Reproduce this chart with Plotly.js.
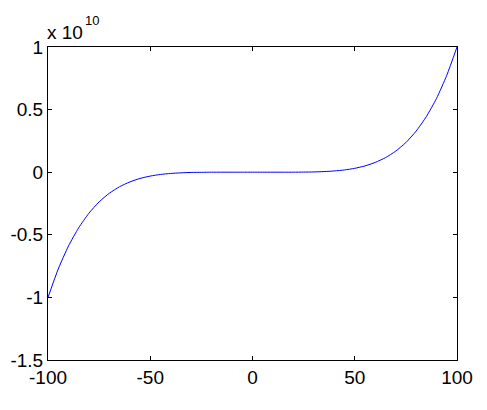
<!DOCTYPE html>
<html>
<head>
<meta charset="utf-8">
<script src="https://cdn.plot.ly/plotly-3.0.1.min.js"></script>
<style>html,body{margin:0;padding:0;background:#fff;}#chart{width:487px;height:410px;}</style>
</head>
<body>
<div id="chart"></div>
<script>
// x values and y values (y in units of 1e10, as shown on the axis)
var xValues = [-100,-95,-90,-85,-80,-75,-70,-65,-60,-55,-50,-45,-40,-35,-30,-25,-20,-15,-10,-5,0,
               5,10,15,20,25,30,35,40,45,50,55,60,65,70,75,80,85,90,95,100];
var yValues = [-1.000,-0.774,-0.590,-0.444,-0.328,-0.237,-0.168,-0.116,-0.078,-0.050,-0.031,-0.018,-0.010,-0.005,-0.002,-0.001,0,0,0,0,0,
               0,0,0,0,0.001,0.002,0.005,0.010,0.018,0.031,0.050,0.078,0.116,0.168,0.237,0.328,0.444,0.590,0.774,1.000];
var xTickVals = [-100,-50,0,50,100];
var xTickText = ['-100','-50','0','50','100'];
var yTickVals = [-1.5,-1,-0.5,0,0.5,1];
var yTickText = ['-1.5','-1','-0.5','0','0.5','1'];
var exponentBase = 'x 10';
var exponentPower = '10';

var fontFam = 'Arial, "Liberation Sans", Helvetica, sans-serif';
var trace = {
  x: xValues, y: yValues, type: 'scatter', mode: 'lines',
  line: {color: 'rgb(0,0,255)', width: 1, shape: 'spline', smoothing: 0.6},
  hoverinfo: 'none'
};
var axisCommon = {
  showgrid: false, zeroline: false, showline: true, linecolor: '#000', linewidth: 1,
  mirror: 'ticks', ticks: 'inside', ticklen: 4, tickwidth: 1, tickcolor: '#000',
  tickfont: {family: fontFam, size: 19, color: '#000'}
};
var layout = {
  width: 487, height: 410,
  margin: {l: 48, r: 30, t: 47, b: 50, pad: 0},
  paper_bgcolor: '#fff', plot_bgcolor: '#fff',
  showlegend: false,
  xaxis: Object.assign({}, axisCommon, {range: [-100, 100], tickvals: xTickVals, ticktext: xTickText}),
  yaxis: Object.assign({}, axisCommon, {range: [-1.5, 1], tickvals: yTickVals, ticktext: yTickText}),
  annotations: [{
    text: exponentBase, xref: 'paper', yref: 'paper', x: 0, y: 1,
    xanchor: 'left', yanchor: 'bottom', showarrow: false, xshift: -3, yshift: 2,
    font: {family: fontFam, size: 19, color: '#000'}
  }, {
    text: exponentPower, xref: 'paper', yref: 'paper', x: 0, y: 1,
    xanchor: 'left', yanchor: 'bottom', showarrow: false, xshift: 35, yshift: 17,
    font: {family: fontFam, size: 13, color: '#000'}
  }]
};
Plotly.newPlot('chart', [trace], layout, {staticPlot: true, displayModeBar: false});
</script>
</body>
</html>
